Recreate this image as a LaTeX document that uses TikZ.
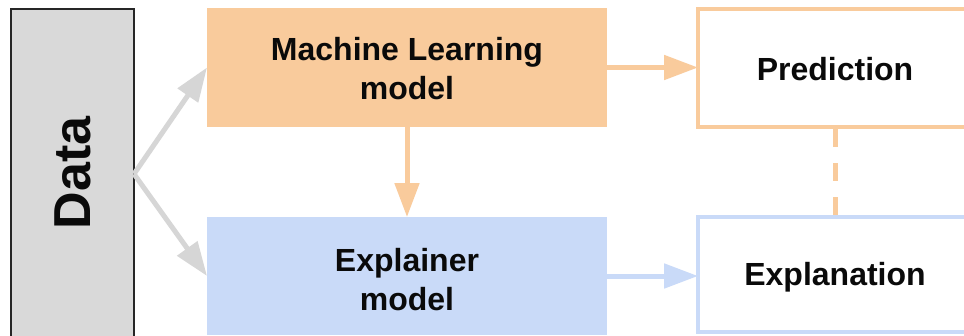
\documentclass[tikz,border=0pt]{standalone}
\usepackage{fontspec}
\setmainfont{Liberation Sans}
\usetikzlibrary{arrows.meta}
\definecolor{orfill}{HTML}{F9CB9C}
\definecolor{blfill}{HTML}{C9DAF8}
\definecolor{grfill}{HTML}{D9D9D9}
\definecolor{grarrow}{HTML}{D6D6D6}
\definecolor{txt}{HTML}{0A0A0A}
\begin{document}
\begin{tikzpicture}[x=1pt,y=-1pt,
  box/.style={rectangle,inner sep=0pt,outer sep=0pt,anchor=north west},
  lbl/.style={font=\bfseries\fontsize{32}{39}\selectfont,text=txt,align=center,inner sep=0pt},
  conn/.style={line width=5pt,-{Triangle[length=34pt,width=24pt]}}]
\useasboundingbox (0,0) rectangle (964,335);
\clip (0,0) rectangle (964,335);
\fill[white] (0,0) rectangle (964,335);
% boxes
\node[box,fill=grfill,draw=black!85,line width=1.5pt,minimum width=123pt,minimum height=330pt] (data) at (11,9) {};
\node[box,fill=orfill,minimum width=400pt,minimum height=119pt] (ml) at (207,8) {};
\node[box,fill=blfill,minimum width=400pt,minimum height=118pt] (ex) at (207,217) {};
\node[box,draw=orfill,line width=4pt,fill=white,minimum width=275pt,minimum height=118pt] (pred) at (698,9) {};
\node[box,draw=blfill,line width=4pt,fill=white,minimum width=275pt,minimum height=115pt] (expl) at (698,217) {};
% labels
\node[inner sep=0pt,rotate=90,font=\bfseries\fontsize{52}{60}\selectfont,text=txt] (datat) at (73,173) {Data};
\node[lbl] (mlt) at (407,69) {Machine Learning\\model};
\node[lbl] (ext) at (407,280) {Explainer\\model};
\node[lbl] (predt) at (835,69) {Prediction};
\node[lbl] (explt) at (835,277) {Explanation};
% connectors
\draw[conn,grarrow] (data.east) -- (ml.west);
\draw[conn,grarrow] (data.east) -- (ex.west);
\draw[conn,orfill] (ml.south) -- (ex.north);
\draw[conn,orfill] (ml.east) -- (ml.east -| pred.west);
\draw[conn,blfill] (ex.east) -- (ex.east -| expl.west);
\draw[orfill,line width=5pt,dash pattern=on 18pt off 16pt] ([yshift=-2pt]pred.south) -- ([yshift=2pt]expl.north);
\end{tikzpicture}
\end{document}
